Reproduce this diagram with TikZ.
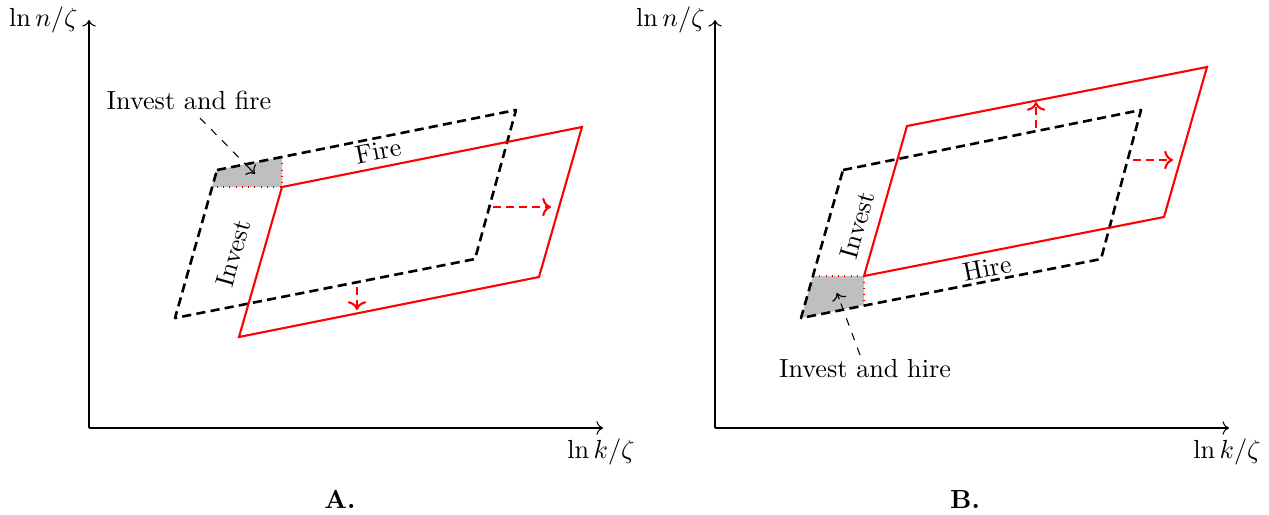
\documentclass[tikz,border=0pt]{standalone}
\usetikzlibrary{arrows.meta,calc}
\begin{document}
\begin{tikzpicture}[x=0.382pt,y=-0.382pt,
  axis/.style={->,line width=0.4pt},
  oldbox/.style={line width=1pt,dash pattern=on 3.5pt off 2pt,line join=round},
  newbox/.style={red,line width=0.8pt},
  moveto/.style={red,->,line width=0.8pt,dash pattern=on 3pt off 2pt},
  region/.style={fill=black!25},
  regionedge/.style={red,dotted,line width=0.4pt},
  callout/.style={dashed,line width=0.4pt},
  callouttip/.style={-{To[length=2.6pt,width=5.6pt]},line width=0.45pt},
  txt/.style={inner sep=0pt,anchor=base},
  sidelbl/.style={inner sep=1pt}]
\useasboundingbox (0,0) rectangle (1269,514);

% ---------------- Panel A ----------------
\coordinate (oA) at (89,428);
\coordinate (yA) at (89,20);
\coordinate (xA) at (603,428);
\coordinate (a1) at (217,170);
\coordinate (a2) at (516,110);
\coordinate (a3) at (475,259);
\coordinate (a4) at (175,318);
\coordinate (r1) at (282,187);
\coordinate (r2) at (582,127);
\coordinate (r3) at (539,277);
\coordinate (r4) at (239,337);
\coordinate (gA1) at (212,187);
\coordinate (gA2) at (282,157);

\fill[region] (gA1) -- (a1) -- (gA2) -- (r1) -- cycle;
\draw[regionedge] (gA2) -- (r1) -- (gA1);
\draw[oldbox] (a1) -- (a2) -- (a3) -- (a4) -- cycle;
\draw[newbox] (r1) -- (r2) -- (r3) -- (r4) -- cycle;

\coordinate (mA1s) at (493,207); \coordinate (mA1e) at (551,207);
\coordinate (mA2s) at (357,287); \coordinate (mA2e) at (357,310);
\draw[moveto] (mA1s) -- (mA1e);
\draw[moveto] (mA2s) -- (mA2e);

\draw[axis] (oA) -- (yA);
\draw[axis] (oA) -- (xA);
\node[txt,anchor=base east] (ylabA) at (78,26) {$\ln n/\zeta$};
\node[txt] (xlabA) at (601,458) {$\ln k/\zeta$};

\node[sidelbl,rotate=11.3] (fire) at (378,151) {Fire};
\node[sidelbl,rotate=74] (investA) at (233,253) {Invest};
\node[txt] (ifire) at (189,109) {Invest and fire};
\coordinate (cA1) at (200,118);
\coordinate (cA2) at (255,174);
\draw[callout] (cA1) -- (cA2);
\draw[callouttip] ($(cA2)!0.1!(cA1)$) -- (cA2);
\node[txt,font=\bfseries] (capA) at (340,508) {A.};

% ---------------- Panel B ----------------
\coordinate (oB) at (715,428);
\coordinate (yB) at (715,20);
\coordinate (xB) at (1229,428);
\coordinate (b1) at (843,170);
\coordinate (b2) at (1141,110);
\coordinate (b3) at (1101,259);
\coordinate (b4) at (801,318);
\coordinate (s1) at (907,126);
\coordinate (s2) at (1207,67);
\coordinate (s3) at (1164,217);
\coordinate (s4) at (864,276);
\coordinate (gB1) at (813,276);
\coordinate (gB2) at (864,305);

\fill[region] (gB1) -- (s4) -- (gB2) -- (b4) -- cycle;
\draw[regionedge] (gB1) -- (s4) -- (gB2);
\draw[oldbox] (b1) -- (b2) -- (b3) -- (b4) -- cycle;
\draw[newbox] (s1) -- (s2) -- (s3) -- (s4) -- cycle;

\coordinate (mB1s) at (1036,128); \coordinate (mB1e) at (1036,102);
\coordinate (mB2s) at (1133,160); \coordinate (mB2e) at (1173,160);
\draw[moveto] (mB1s) -- (mB1e);
\draw[moveto] (mB2s) -- (mB2e);

\draw[axis] (oB) -- (yB);
\draw[axis] (oB) -- (xB);
\node[txt,anchor=base east] (ylabB) at (705,26) {$\ln n/\zeta$};
\node[txt] (xlabB) at (1227,458) {$\ln k/\zeta$};

\node[sidelbl,rotate=11.3] (hire) at (987,268) {Hire};
\node[sidelbl,rotate=74] (investB) at (857,225) {Invest};
\node[txt] (ihire) at (865,377) {Invest and hire};
\coordinate (cB1) at (860,355);
\coordinate (cB2) at (837,293);
\draw[callout] (cB1) -- (cB2);
\draw[callouttip] ($(cB2)!0.1!(cB1)$) -- (cB2);
\node[txt,font=\bfseries] (capB) at (965,508) {B.};
\end{tikzpicture}
\end{document}
